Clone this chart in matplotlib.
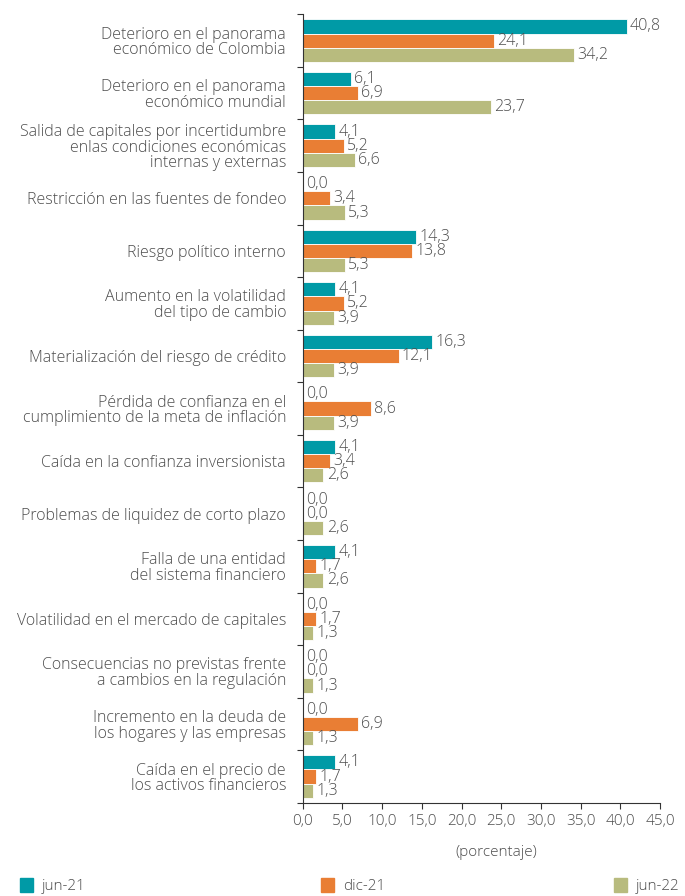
import matplotlib
matplotlib.use("Agg")
import matplotlib.pyplot as plt
import numpy as np
from matplotlib.patches import Patch

plt.rcParams['font.family'] = ['Open Sans', 'DejaVu Sans']
plt.rcParams['font.weight'] = 'light'

categories = [
    "Deterioro en el panorama\neconómico de Colombia",
    "Deterioro en el panorama\neconómico mundial",
    "Salida de capitales por incertidumbre\nenlas condiciones económicas\ninternas y externas",
    "Restricción en las fuentes de fondeo",
    "Riesgo político interno",
    "Aumento en la volatilidad\ndel tipo de cambio",
    "Materialización del riesgo de crédito",
    "Pérdida de confianza en el\ncumplimiento de la meta de inflación",
    "Caída en la confianza inversionista",
    "Problemas de liquidez de corto plazo",
    "Falla de una entidad\ndel sistema financiero",
    "Volatilidad en el mercado de capitales",
    "Consecuencias no previstas frente\na cambios en la regulación",
    "Incremento en la deuda de\nlos hogares y las empresas",
    "Caída en el precio de\nlos activos financieros",
]
jun21 = [40.8, 6.1, 4.1, 0.0, 14.3, 4.1, 16.3, 0.0, 4.1, 0.0, 4.1, 0.0, 0.0, 0.0, 4.1]
dic21 = [24.1, 6.9, 5.2, 3.4, 13.8, 5.2, 12.1, 8.6, 3.4, 0.0, 1.7, 1.7, 0.0, 6.9, 1.7]
jun22 = [34.2, 23.7, 6.6, 5.3, 5.3, 3.9, 3.9, 3.9, 2.6, 2.6, 2.6, 1.3, 1.3, 1.3, 1.3]
series_names = ["jun-21", "dic-21", "jun-22"]
colors = ["#009AA6", "#E97E34", "#B8BB7E"]
xticks = [0, 5, 10, 15, 20, 25, 30, 35, 40, 45]

txt = "#4D4D4D"
fig = plt.figure(figsize=(6.85, 8.96), dpi=100)
ax = fig.add_axes([0.442, 0.104, 0.5215, 0.880])

n = len(categories)
y = np.arange(n)
h = 0.27
for k, (vals, c) in enumerate(zip([jun21, dic21, jun22], colors)):
    pos = y + (k - 1) * h
    ax.barh(pos, vals, height=h, color=c, edgecolor="white", linewidth=0.6)
    for p, v in zip(pos, vals):
        ax.text(v + 0.4, p, f"{v:.1f}".replace(".", ","), va="center", ha="left",
                fontsize=11.5, color=txt)

ax.set_ylim(n - 0.5, -0.5)
ax.set_xlim(0, 45)
ax.set_yticks(y)
ax.set_yticklabels(categories, fontsize=11.5, color=txt, linespacing=0.98)
ax.set_yticks(np.arange(n + 1) - 0.5, minor=True)
ax.tick_params(axis="y", which="major", length=0, pad=12)
ax.tick_params(axis="y", which="minor", length=4, color="#333333", width=0.8)
ax.set_xticks(xticks)
ax.set_xticklabels([f"{t:.1f}".replace(".", ",") for t in xticks], fontsize=11, color=txt)
ax.tick_params(axis="x", length=4, color="#333333", width=0.8, pad=4)
for s in ["top", "right"]:
    ax.spines[s].set_visible(False)
for s in ["left", "bottom"]:
    ax.spines[s].set_color("#333333")
    ax.spines[s].set_linewidth(0.8)

fig.text(0.724, 0.049, "(porcentaje)", ha="center", va="center", fontsize=11, color=txt)

xs = [0.029, 0.469, 0.896]
for xpos, name, c in zip(xs, series_names, colors):
    fig.legend(handles=[Patch(color=c)], labels=[name], loc="center left",
               bbox_to_anchor=(xpos, 0.011), frameon=False, fontsize=11,
               handlelength=0.85, handleheight=1.0, handletextpad=0.6,
               labelcolor=txt, borderaxespad=0, borderpad=0)

fig.savefig("out.png", dpi=100)
